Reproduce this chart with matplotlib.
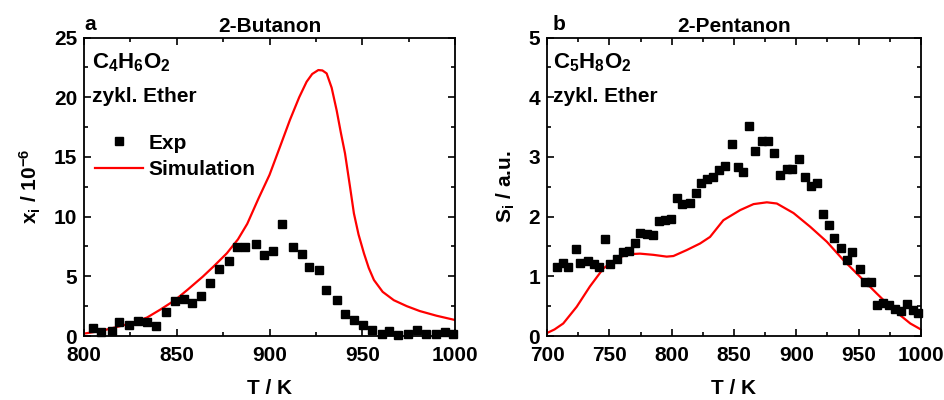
import matplotlib
matplotlib.use("Agg")
import matplotlib.pyplot as plt
from matplotlib.ticker import MultipleLocator

plt.rcParams['font.family'] = ['Liberation Sans', 'DejaVu Sans']
plt.rcParams['font.weight'] = 'bold'
plt.rcParams['mathtext.fontset'] = 'custom'
plt.rcParams['mathtext.rm'] = 'Liberation Sans:bold'
plt.rcParams['mathtext.it'] = 'Liberation Sans:bold'
plt.rcParams['mathtext.bf'] = 'Liberation Sans:bold'
plt.rcParams['mathtext.default'] = 'bf'

# ---- Panel a: 2-Butanon ----
a_exp_T = [805, 809, 815, 819, 824, 829, 834, 839, 844, 849, 854, 858, 863, 868, 873, 878,
           882.5, 887, 892.5, 897, 902, 907, 912.5, 917.5, 921.5, 926.5, 930.5, 936.5, 940.5,
           945.5, 950.5, 955.5, 960.5, 964.5, 969.5, 974.5, 979.5, 984.5, 989.5, 994.5, 999]
a_exp_x = [0.7, 0.33, 0.42, 1.2, 0.92, 1.26, 1.2, 0.86, 2.0, 2.96, 3.1, 2.8, 3.35, 4.44, 5.64, 6.26,
           7.48, 7.43, 7.73, 6.76, 7.09, 9.4, 7.45, 6.87, 5.78, 5.53, 3.88, 3.0, 1.87,
           1.37, 0.9, 0.5, 0.14, 0.42, 0.08, 0.2, 0.5, 0.2, 0.17, 0.36, 0.2]
a_sim_T = [800, 810, 820, 827, 834, 841, 849, 856, 864, 870, 877, 883, 888, 894, 900, 906, 911,
           916, 920, 923, 926.3, 928.5, 930.8, 933.5, 936.2, 938.5, 940.7, 943.4, 945.5, 948,
           950.9, 953.5, 956.3, 961, 967, 974, 981, 990, 1000]
a_sim_x = [0.2, 0.45, 0.85, 1.15, 1.55, 2.2, 3.0, 3.9, 4.97, 5.85, 6.93, 8.1, 9.4, 11.5, 13.5,
           16.0, 18.1, 20.0, 21.3, 21.95, 22.28, 22.25, 22.0, 20.8, 18.9, 17.0, 15.3, 12.5,
           10.27, 8.5, 6.93, 5.7, 4.69, 3.7, 3.0, 2.5, 2.09, 1.7, 1.34]

# ---- Panel b: 2-Pentanon ----
b_exp_T = [707.8, 712.6, 717, 723, 726.8, 733.2, 737.8, 742, 746.8, 750.6, 756, 760.8, 765.6,
           770.6, 774.9, 780, 784.9, 790, 794.7, 799.8, 804.6, 808.6, 814.6, 819.4, 823.6,
           828.4, 833.2, 838.3, 842.8, 848.5, 853, 857.3, 862.2, 867.2, 872.6, 877.2, 882.5,
           887.3, 892.2, 896.4, 902.3, 907.1, 912, 916.7, 921.3, 925.9, 929.9, 935.8, 940.6,
           944.6, 950.8, 955.3, 960.1, 964.7, 970, 974.6, 979.4, 984, 988.8, 993.6, 998]
b_exp_S = [1.16, 1.23, 1.16, 1.45, 1.23, 1.26, 1.21, 1.16, 1.63, 1.21, 1.29, 1.40, 1.42,
           1.56, 1.72, 1.71, 1.69, 1.93, 1.94, 1.96, 2.32, 2.21, 2.23, 2.40, 2.56,
           2.63, 2.67, 2.78, 2.85, 3.21, 2.84, 2.75, 3.52, 3.10, 3.26, 3.27, 3.07,
           2.70, 2.80, 2.80, 2.96, 2.67, 2.51, 2.57, 2.04, 1.86, 1.65, 1.47, 1.27,
           1.40, 1.12, 0.90, 0.90, 0.52, 0.55, 0.52, 0.46, 0.42, 0.54, 0.44, 0.39]
b_sim_T = [700, 706, 713, 723.8, 734.4, 745.1, 755.8, 765.2, 774.6, 785.3, 796, 801.4, 812.1,
           822.8, 830.8, 841.5, 855, 865.7, 876.4, 884.4, 897.8, 911.2, 924.5, 937.9, 951.3,
           964.7, 978, 991.5, 1000]
b_sim_S = [0.05, 0.11, 0.21, 0.49, 0.83, 1.13, 1.30, 1.37, 1.38, 1.36, 1.33, 1.34, 1.44,
           1.55, 1.66, 1.94, 2.11, 2.21, 2.24, 2.22, 2.06, 1.83, 1.58, 1.27, 0.99,
           0.71, 0.44, 0.21, 0.11]

fig = plt.figure(figsize=(9.44, 4.0), dpi=100)
axA = fig.add_axes([0.089, 0.16, 0.393, 0.746])
axB = fig.add_axes([0.5795, 0.16, 0.396, 0.746])

FS = 15

def style(ax, xmaj, xmin, ymaj, ymin):
    ax.xaxis.set_major_locator(MultipleLocator(xmaj))
    ax.xaxis.set_minor_locator(MultipleLocator(xmin))
    ax.yaxis.set_major_locator(MultipleLocator(ymaj))
    ax.yaxis.set_minor_locator(MultipleLocator(ymin))
    ax.tick_params(which='both', direction='in', top=True, right=True, width=1.2)
    ax.tick_params(which='major', length=5, labelsize=FS)
    ax.tick_params(axis='x', which='major', pad=7)
    ax.tick_params(axis='y', which='major', pad=5)
    ax.tick_params(which='minor', length=3)
    for s in ax.spines.values():
        s.set_linewidth(1.3)
    for lab in ax.get_xticklabels() + ax.get_yticklabels():
        lab.set_fontweight('bold')

# Panel a
axA.plot(a_exp_T, a_exp_x, 's', color='black', markersize=5.5, label='Exp', clip_on=False, zorder=3)
axA.plot(a_sim_T, a_sim_x, '-', color='#ff0000', lw=1.6, label='Simulation')
axA.set_xlim(800, 1000)
axA.set_ylim(0, 25)
style(axA, 50, 25, 5, 2.5)
axA.set_xlabel('T / K', fontsize=FS, fontweight='bold', labelpad=10)
axA.set_ylabel('x$_i$ / 10$^{-6}$', fontsize=FS, fontweight='bold', labelpad=8)
axA.set_title('2-Butanon', fontsize=FS, fontweight='bold', pad=4)
axA.text(0.0, 1.012, 'a', transform=axA.transAxes, fontsize=FS, fontweight='bold', va='bottom', ha='left')
axA.text(0.022, 0.955, 'C$_4$H$_6$O$_2$', transform=axA.transAxes, fontsize=16, va='top', ha='left')
axA.text(0.022, 0.835, 'zykl. Ether', transform=axA.transAxes, fontsize=FS, fontweight='bold', va='top', ha='left')
leg = axA.legend(loc='upper left', bbox_to_anchor=(-0.005, 0.72), frameon=False,
                 prop={'size': FS, 'weight': 'bold'}, handlelength=2.3, handletextpad=0.3,
                 labelspacing=0.35, borderaxespad=0.2)

# Panel b
axB.plot(b_exp_T, b_exp_S, 's', color='black', markersize=5.5, clip_on=False, zorder=3)
axB.plot(b_sim_T, b_sim_S, '-', color='#ff0000', lw=1.6)
axB.set_xlim(700, 1000)
axB.set_ylim(0, 5)
style(axB, 50, 25, 1, 0.5)
axB.set_xlabel('T / K', fontsize=FS, fontweight='bold', labelpad=10)
axB.set_ylabel('S$_i$ / a.u.', fontsize=FS, fontweight='bold', labelpad=8)
axB.set_title('2-Pentanon', fontsize=FS, fontweight='bold', pad=4)
axB.text(0.016, 1.012, 'b', transform=axB.transAxes, fontsize=FS, fontweight='bold', va='bottom', ha='left')
axB.text(0.016, 0.955, 'C$_5$H$_8$O$_2$', transform=axB.transAxes, fontsize=16, va='top', ha='left')
axB.text(0.016, 0.835, 'zykl. Ether', transform=axB.transAxes, fontsize=FS, fontweight='bold', va='top', ha='left')

fig.savefig('out.png', dpi=100)
